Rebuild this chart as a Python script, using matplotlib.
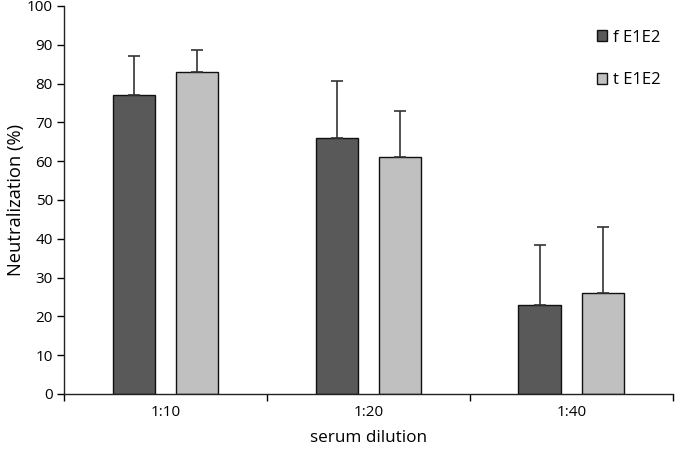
import matplotlib
matplotlib.use("Agg")
import matplotlib.pyplot as plt
import numpy as np
from matplotlib.patches import Patch

categories = ["1:10", "1:20", "1:40"]
series_names = ["f E1E2", "t E1E2"]
f_values = [77, 66, 23]
f_errors = [10, 14.7, 15.3]
t_values = [83, 61, 26]
t_errors = [5.7, 12, 17]

colors = ["#595959", "#c0c0c0"]

plt.rcParams['font.family'] = ['Open Sans', 'DejaVu Sans']

fig = plt.figure(figsize=(6.75, 4.51), dpi=100)
ax = fig.add_axes([0.0948, 0.1264, 0.902, 0.8603])

x = np.arange(len(categories))
width = 0.207
offset = 0.157
err_kw = dict(ecolor="#333333", elinewidth=1.2, capsize=4, capthick=1.2)
ax.bar(x - offset, f_values, width, color=colors[0], edgecolor="#111111", linewidth=1,
       yerr=[np.zeros(3), f_errors], error_kw=err_kw, zorder=2)
ax.bar(x + offset, t_values, width, color=colors[1], edgecolor="#111111", linewidth=1,
       yerr=[np.zeros(3), t_errors], error_kw=err_kw, zorder=2)

ax.set_xlim(-0.5, 2.5)
ax.set_ylim(0, 100)
ax.set_yticks(range(0, 101, 10))
ax.set_xticks(x)
ax.set_xticklabels(categories)
ax.set_xticks([-0.5, 0.5, 1.5, 2.5], minor=True)
ax.tick_params(axis='x', which='major', length=0, pad=8, labelsize=11)
ax.tick_params(axis='x', which='minor', length=5, width=1, direction='out')
ax.tick_params(axis='y', length=5, width=1, direction='out', labelsize=11, pad=3)

for s in ["top", "right"]:
    ax.spines[s].set_visible(False)
for s in ["left", "bottom"]:
    ax.spines[s].set_linewidth(1)
    ax.spines[s].set_color("#222222")

ax.set_ylabel("Neutralization (%)", fontsize=13.2, labelpad=1)
ax.set_xlabel("serum dilution", fontsize=12.3, labelpad=7)

handles = [Patch(facecolor=colors[0], edgecolor="#111111"),
           Patch(facecolor=colors[1], edgecolor="#111111")]
fig.legend(handles, series_names, loc="upper left", bbox_to_anchor=(0.872, 0.953),
           frameon=False, fontsize=12, handlelength=0.6, handleheight=0.6,
           handletextpad=0.35, labelspacing=1.6, borderpad=0)

fig.savefig("out.png", dpi=100)
